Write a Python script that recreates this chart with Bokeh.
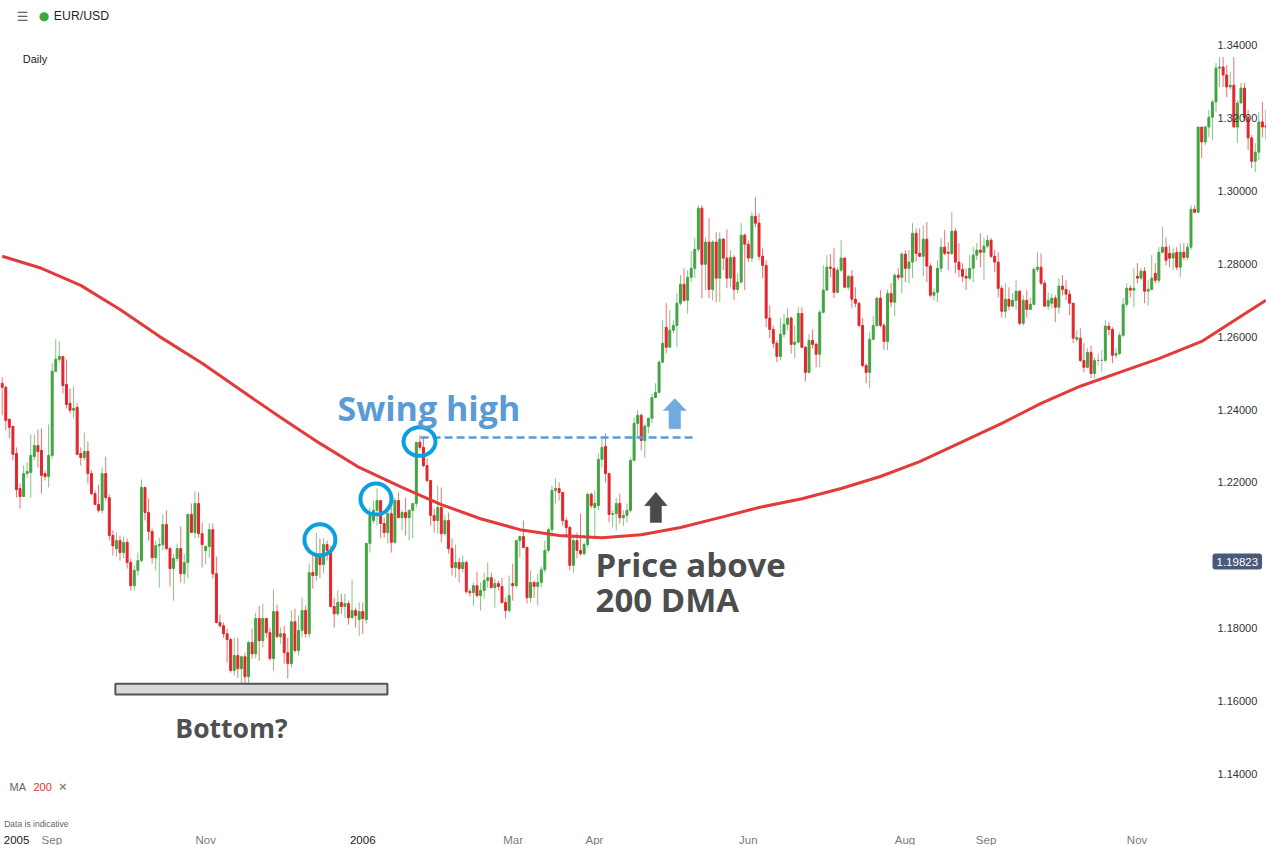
from bokeh.plotting import figure
from bokeh.models import Range1d, Label, LabelSet, ColumnDataSource
from bokeh.core.properties import value
from bokeh.embed import file_html
from bokeh.resources import INLINE

# ---------------- data: EUR/USD daily OHLC, pips above 1.0000 (price = 1 + v/10000)
opens = [
2472,2461,2373,2354,2279,2183,2161,2224,2227,2271,
2301,2288,2224,2216,2274,2505,2538,2546,2469,2417,
2398,2406,2279,2268,2285,2224,2169,2139,2123,2224,
2158,2054,2018,2040,2007,2035,1980,1916,1958,1985,
2186,2117,2065,1993,2026,2029,2084,2018,1963,1991,
2018,1949,1980,2112,2062,2142,2059,2013,2024,2070,
1949,1815,1806,1784,1768,1683,1724,1688,1721,1666,
1760,1729,1826,1765,1826,1787,1716,1845,1776,1784,
1732,1702,1817,1738,1793,1848,1784,1952,1944,1999,
1974,2029,2013,1859,1839,1870,1859,1867,1828,1848,
1823,1845,1823,2032,2095,2123,2150,2087,2062,2114,
2035,2150,2103,2117,2103,2123,2142,2310,2296,2246,
2205,2109,2095,2131,2059,2095,2018,1966,1980,1963,
1980,1900,1897,1916,1889,1903,1930,1938,1911,1922,
1914,1870,1848,1922,1916,2040,2051,2021,1883,1925,
1914,1925,1960,2013,2070,2178,2183,2172,2095,2076,
1972,2040,2013,2004,2029,2167,2131,2136,2263,2299,
2224,2112,2114,2142,2103,2109,2123,2260,2362,2384,
2315,2354,2376,2433,2447,2530,2626,2571,2618,2631,
2692,2744,2700,2763,2788,2840,2953,2799,2860,2730,
2860,2761,2868,2816,2761,2818,2730,2750,2879,2854,
2816,2931,2912,2821,2796,2651,2620,2582,2546,2607,
2634,2651,2579,2585,2664,2571,2502,2590,2579,2552,
2667,2728,2791,2788,2722,2783,2816,2736,2766,2703,
2692,2631,2521,2502,2593,2631,2706,2631,2587,2719,
2695,2769,2763,2827,2788,2805,2884,2829,2821,2868,
2794,2714,2722,2788,2846,2832,2829,2890,2805,2785,
2766,2761,2788,2824,2838,2832,2849,2865,2821,2805,
2733,2670,2703,2684,2700,2725,2637,2700,2675,2689,
2785,2791,2747,2684,2692,2706,2681,2739,2730,2717,
2692,2593,2596,2535,2516,2557,2499,2535,2535,2535,
2629,2620,2549,2554,2604,2689,2733,2728,2766,2761,
2780,2725,2730,2774,2755,2832,2846,2829,2816,2832,
2791,2832,2818,2846,2950,2942,3176,3135,3176,3203,
3245,3338,3341,3319,3286,3291,3176,3242,3283,3203,
3146,3082,3107,3190,3179]

highs = [
2488,2466,2376,2354,2296,2197,2246,2255,2332,2332,
2345,2348,2233,2359,2527,2593,2587,2546,2538,2458,
2464,2417,2296,2337,2312,2233,2178,2194,2241,2271,
2167,2068,2062,2054,2051,2046,1991,1971,2007,2208,
2186,2156,2073,2040,2048,2112,2123,2024,2004,2032,
2079,2004,2114,2142,2175,2172,2090,2026,2087,2087,
1996,1837,1815,1798,1773,1773,1773,1724,1732,1765,
1798,1842,1861,1867,1826,1801,1905,1864,1801,1806,
1773,1848,1853,1834,1883,1861,1977,2007,2062,2046,
2046,2040,2026,1883,1903,1894,1894,1875,1933,1856,
1870,1870,2035,2131,2150,2183,2150,2103,2128,2131,
2158,2172,2123,2158,2125,2142,2310,2329,2323,2266,
2205,2128,2191,2186,2109,2117,2046,2029,1993,1999,
1985,1908,1925,1955,1925,1952,1980,1952,1936,1930,
1938,1883,1944,1977,2040,2054,2095,2024,1958,1930,
1949,1969,2040,2076,2191,2211,2200,2172,2103,2081,
2048,2062,2114,2035,2172,2172,2178,2279,2323,2334,
2227,2123,2156,2169,2123,2142,2268,2378,2398,2389,
2362,2378,2444,2472,2535,2645,2692,2673,2645,2719,
2769,2788,2783,2835,2873,2961,2961,2873,2926,2865,
2887,2887,2871,2895,2838,2824,2774,2912,2884,2865,
2942,2983,2939,2843,2810,2686,2631,2590,2651,2662,
2678,2656,2631,2681,2681,2574,2607,2620,2585,2673,
2796,2824,2827,2843,2791,2865,2818,2769,2783,2736,
2695,2651,2527,2612,2656,2708,2728,2637,2730,2747,
2774,2788,2832,2838,2838,2912,2898,2898,2906,2915,
2802,2733,2810,2871,2893,2860,2942,2898,2857,2802,
2788,2824,2846,2857,2884,2873,2879,2871,2838,2832,
2741,2747,2736,2719,2755,2728,2714,2728,2708,2791,
2832,2829,2755,2722,2719,2714,2761,2769,2755,2728,
2692,2618,2623,2582,2568,2576,2543,2554,2563,2645,
2640,2626,2568,2612,2706,2747,2741,2788,2802,2788,
2791,2755,2824,2802,2846,2901,2873,2851,2843,2846,
2857,2857,2857,2961,2961,3176,3176,3181,3223,3250,
3352,3368,3368,3346,3327,3368,3250,3297,3297,3223,
3154,3132,3217,3245,3223]

lows = [
2384,2343,2321,2260,2158,2128,2161,2213,2158,2260,
2241,2169,2205,2186,2266,2502,2530,2444,2403,2389,
2376,2274,2246,2260,2197,2164,2139,2117,2114,2150,
2040,1999,1996,1985,1991,1963,1903,1903,1944,1980,
2095,2040,1977,1958,1911,2013,2013,1914,1875,1982,
1925,1922,1936,2062,2046,2048,1966,1974,1993,1936,
1812,1801,1773,1705,1677,1669,1663,1641,1647,1641,
1716,1716,1710,1746,1773,1710,1683,1773,1757,1702,
1661,1691,1732,1724,1773,1773,1773,1908,1930,1938,
1949,1985,1856,1801,1834,1839,1828,1809,1826,1801,
1779,1784,1812,2007,2087,2081,2048,2048,2032,2007,
2032,2101,2068,2054,2040,2046,2131,2288,2241,2200,
2081,2062,2059,2035,2054,2004,1944,1938,1925,1952,
1894,1886,1861,1883,1848,1881,1911,1908,1856,1903,
1867,1826,1842,1875,1911,1993,2018,1867,1870,1883,
1861,1911,1952,2007,2048,2142,2150,2081,2048,1958,
1952,1991,1999,1999,2021,2128,2048,2123,2241,2200,
2090,2076,2068,2087,2081,2090,2117,2260,2323,2288,
2268,2334,2362,2431,2444,2527,2554,2571,2609,2571,
2686,2695,2664,2750,2761,2832,2706,2728,2706,2700,
2695,2695,2783,2733,2736,2700,2719,2747,2728,2805,
2805,2901,2810,2761,2626,2596,2568,2530,2535,2598,
2618,2554,2541,2582,2568,2477,2499,2568,2516,2516,
2664,2728,2763,2706,2719,2777,2733,2728,2678,2681,
2626,2516,2472,2458,2590,2626,2626,2563,2563,2681,
2656,2755,2719,2750,2747,2761,2805,2818,2766,2750,
2708,2700,2695,2777,2824,2783,2824,2774,2763,2750,
2728,2755,2750,2810,2791,2755,2843,2816,2777,2708,
2653,2651,2673,2681,2673,2631,2631,2653,2673,2686,
2777,2741,2681,2673,2678,2640,2664,2713,2700,2659,
2582,2585,2530,2502,2513,2486,2486,2521,2502,2530,
2604,2527,2541,2549,2598,2681,2708,2681,2747,2755,
2692,2686,2728,2747,2747,2829,2796,2791,2783,2783,
2763,2810,2810,2838,2939,2939,3091,3126,3148,3140,
3217,3286,3286,3258,3278,3176,3132,3242,3190,3113,
3063,3052,3085,3148,3140]

closes = [
2461,2370,2351,2277,2180,2161,2224,2230,2274,2301,
2285,2219,2216,2274,2505,2538,2546,2466,2414,2398,
2403,2277,2268,2285,2224,2169,2139,2123,2224,2158,
2054,2026,2040,2007,2035,1980,1916,1958,1985,2186,
2117,2065,1993,2026,2029,2084,2018,1963,1991,2018,
1949,1980,2112,2062,2142,2059,2029,2024,2070,1949,
1815,1806,1784,1768,1683,1724,1688,1721,1666,1760,
1729,1826,1765,1826,1787,1716,1845,1776,1784,1732,
1702,1817,1738,1793,1848,1784,1952,1944,1999,1974,
2029,2013,1859,1839,1870,1859,1867,1828,1848,1834,
1845,1826,2032,2109,2123,2150,2087,2062,2114,2035,
2150,2103,2117,2103,2123,2142,2310,2296,2246,2205,
2109,2095,2131,2059,2095,2018,1966,1980,1963,1980,
1900,1897,1916,1889,1903,1930,1938,1911,1922,1914,
1870,1848,1889,1916,2040,2051,2021,1883,1925,1914,
1925,1960,2013,2070,2178,2183,2172,2095,2076,1972,
2040,2013,2004,2029,2167,2136,2142,2263,2296,2224,
2112,2114,2142,2103,2109,2123,2260,2362,2384,2315,
2354,2376,2433,2447,2530,2582,2571,2618,2631,2692,
2744,2700,2763,2788,2840,2953,2799,2860,2730,2860,
2761,2868,2816,2761,2818,2730,2750,2879,2854,2816,
2931,2912,2821,2796,2651,2620,2582,2546,2607,2634,
2651,2579,2585,2664,2571,2502,2590,2579,2552,2667,
2728,2791,2788,2722,2783,2816,2736,2766,2703,2692,
2631,2521,2502,2593,2631,2706,2631,2587,2719,2695,
2769,2763,2827,2788,2805,2884,2829,2821,2868,2794,
2714,2722,2788,2846,2829,2829,2890,2805,2785,2766,
2761,2788,2824,2838,2832,2849,2865,2821,2805,2733,
2670,2703,2684,2700,2725,2637,2700,2675,2689,2785,
2791,2747,2684,2700,2706,2681,2739,2730,2717,2692,
2596,2598,2535,2516,2557,2499,2535,2535,2535,2629,
2620,2549,2554,2604,2689,2733,2728,2733,2761,2780,
2725,2730,2761,2755,2832,2846,2810,2816,2829,2791,
2832,2818,2846,2950,2942,3176,3135,3176,3203,3245,
3338,3341,3319,3286,3291,3176,3242,3283,3203,3146,
3082,3107,3190,3176,3176]

# 200-day moving average, sampled at these candle indices (pips above 1.0000)
ma_index = [0, 11, 22, 33, 44, 56, 67, 78, 89, 100, 112, 123, 134, 145, 156, 168, 179,
            190, 201, 212, 224, 235, 246, 257, 268, 280, 291, 302, 313, 324, 336, 347, 354]
ma_values = [2821, 2788, 2741, 2675, 2601, 2527, 2452, 2378, 2307, 2241, 2186, 2139, 2100,
             2070, 2054, 2048, 2056, 2076, 2103, 2131, 2155, 2183, 2216, 2257, 2307, 2362,
             2417, 2464, 2502, 2540, 2587, 2656, 2700]

# time axis labels (candle index of first trading day of month)
month_ticks = [13.9, 57.0, 101.0, 143.1, 165.9, 209.0, 252.9, 275.6, 317.9]
month_labels = ["Sep", "Nov", "2006", "Mar", "Apr", "Jun", "Aug", "Sep", "Nov"]
price_ticks = [1.34, 1.32, 1.30, 1.28, 1.26, 1.24, 1.22, 1.18, 1.16, 1.14]
price_labels = ["1.34000", "1.32000", "1.30000", "1.28000", "1.26000", "1.24000",
                "1.22000", "1.18000", "1.16000", "1.14000"]
last_price = 1.19823

# annotation anchors (candle index, price)
swing_circles_x = [89.0, 104.7, 116.9]
swing_circles_y = [1.2042, 1.2154, 1.2312]
swing_level = 1.2323
swing_from, swing_to = 117.2, 193.4
bottom_left, bottom_right, bottom_top, bottom_bot = 31.7, 107.9, 1.1647, 1.1617

# ---------------- figure
W, H = 1266, 845
X0, X1 = -0.476, 354.15
Y0, Y1 = 1.12024, 1.35236


def ux(npx):
    return npx * (X1 - X0) / W


def scr(rx, ry):
    return rx, H - ry


p = figure(width=W, height=H, x_range=Range1d(X0, X1), y_range=Range1d(Y0, Y1),
           output_backend="svg", toolbar_location=None,
           x_axis_location=None, y_axis_location=None, min_border=0)
p.outline_line_color = None
p.grid.visible = False
p.background_fill_color = "white"
p.border_fill_color = "white"

GREEN, RED, GREY = "#42a443", "#e3262c", "#8c8c8c"
o = [1 + v / 10000 for v in opens]
h = [1 + v / 10000 for v in highs]
l = [1 + v / 10000 for v in lows]
c = [1 + v / 10000 for v in closes]
cols = [GREEN if cc > oo else (RED if cc < oo else GREY) for oo, cc in zip(o, c)]
src = ColumnDataSource(dict(x=list(range(len(c))), h=h, l=l,
                            top=[max(a, b) for a, b in zip(o, c)],
                            bottom=[min(a, b) for a, b in zip(o, c)], color=cols))
p.segment(x0="x", y0="l", x1="x", y1="h", line_color="color", line_alpha=0.65,
          line_width=1, source=src)
p.vbar(x="x", width=0.55, top="top", bottom="bottom", fill_color="color",
       line_color="color", line_width=1, source=src)

p.line(ma_index, [1 + v / 10000 for v in ma_values], line_color="#e33a3a", line_width=3,
       line_join="round")

# swing high markup
p.line([swing_from, swing_to], [swing_level, swing_level], line_color="#5b9bd5",
       line_width=2.5, line_dash="8 4")
p.ellipse(x=swing_circles_x, y=swing_circles_y, width=[31, 31, 32],
          height=[31, 31, 28.5], width_units="screen", height_units="screen",
          fill_color=None, line_color="#0aa0e0", line_width=4)

# bottom box
p.quad(left=[bottom_left], right=[bottom_right], top=[bottom_top], bottom=[bottom_bot],
       fill_color="#d9d9d9", line_color="#555555", line_width=2)


def arrow(xc, y_tip, y_neck, y_tail, head_half_px, shaft_half_px, color):
    hh, sh = ux(head_half_px), ux(shaft_half_px)
    xs = [xc, xc + hh, xc + sh, xc + sh, xc - sh, xc - sh, xc - hh]
    ys = [y_tip, y_neck, y_neck, y_tail, y_tail, y_neck, y_neck]
    p.patch(xs, ys, fill_color=color, line_color=color, line_width=0.5)


arrow(188.4, 1.2430, 1.2397, 1.2347, 11.5, 5.8, "#72aade")
arrow(183.1, 1.2173, 1.2136, 1.2090, 11.3, 5.6, "#4a4a4a")

p.text(x=[93.9], y=[1.2404], text=["Swing high"], text_font=value("Open Sans"),
       text_font_style="bold", text_font_size="34px", text_color="#5b9bd5",
       text_baseline="alphabetic")
p.text(x=[166.2, 166.2], y=[1.1974, 1.1879], text=["Price above", "200 DMA"],
       text_font=value("Open Sans"), text_font_style="bold", text_font_size="33px",
       text_color="#4d4d4d", text_baseline="alphabetic")
p.text(x=[48.5], y=[1.1524], text=["Bottom?"], text_font=value("Open Sans"),
       text_font_style="bold", text_font_size="26.5px", text_color="#505050",
       text_baseline="alphabetic")

# price labels (right side, inside the plot)
psrc = ColumnDataSource(dict(y=price_ticks, text=price_labels))
p.add_layout(LabelSet(x=1217, y="y", x_units="screen", text="text", source=psrc,
                      text_font=value("Liberation Sans"), text_font_size="11px",
                      text_color="#333333", text_baseline="middle"))
p.add_layout(Label(x=1212, y=last_price, x_units="screen", y_units="data",
                   text="1.19823", text_font="Liberation Sans", text_font_size="11.5px",
                   text_color="white", text_baseline="middle",
                   background_fill_color="#485a78", padding=4, border_radius=3))

# time labels
tsrc = ColumnDataSource(dict(x=month_ticks, text=month_labels,
                             color=["#1a1a1a" if t.isdigit() else "#7a7a7a" for t in month_labels]))
p.add_layout(LabelSet(x="x", y=scr(0, 839)[1], y_units="screen", text="text", source=tsrc,
                      text_font=value("Liberation Sans"), text_font_size="11.5px",
                      text_color="color", text_align="center", text_baseline="middle"))


def ui(rx, ry, text, size, color, font="Liberation Sans", style="normal", align="left"):
    x, y = scr(rx, ry)
    p.add_layout(Label(x=x, y=y, x_units="screen", y_units="screen", text=text,
                       text_font=font, text_font_size=size, text_color=color,
                       text_font_style=style, text_align=align, text_baseline="middle"))


ui(3.3, 839, "2005", "11.5px", "#1a1a1a")
ui(22.2, 15.5, "\u2630", "13px", "#666666", font="DejaVu Sans", align="center")
ui(43.5, 15.5, "\u25CF", "12px", "#3aa93a", font="DejaVu Sans", align="center")
ui(53.3, 15.5, "EUR/USD", "12.3px", "#1f1f2e")
ui(22.3, 58.5, "Daily", "11px", "#222222")
ui(9, 786, "MA", "11px", "#666666")
ui(33, 786, "200", "11px", "#e8302a")
ui(58.5, 786, "\u00D7", "13px", "#888888", style="bold")
ui(3.7, 823, "Data is indicative", "8.5px", "#666666")

open("out.html", "w").write(file_html(p, INLINE))
